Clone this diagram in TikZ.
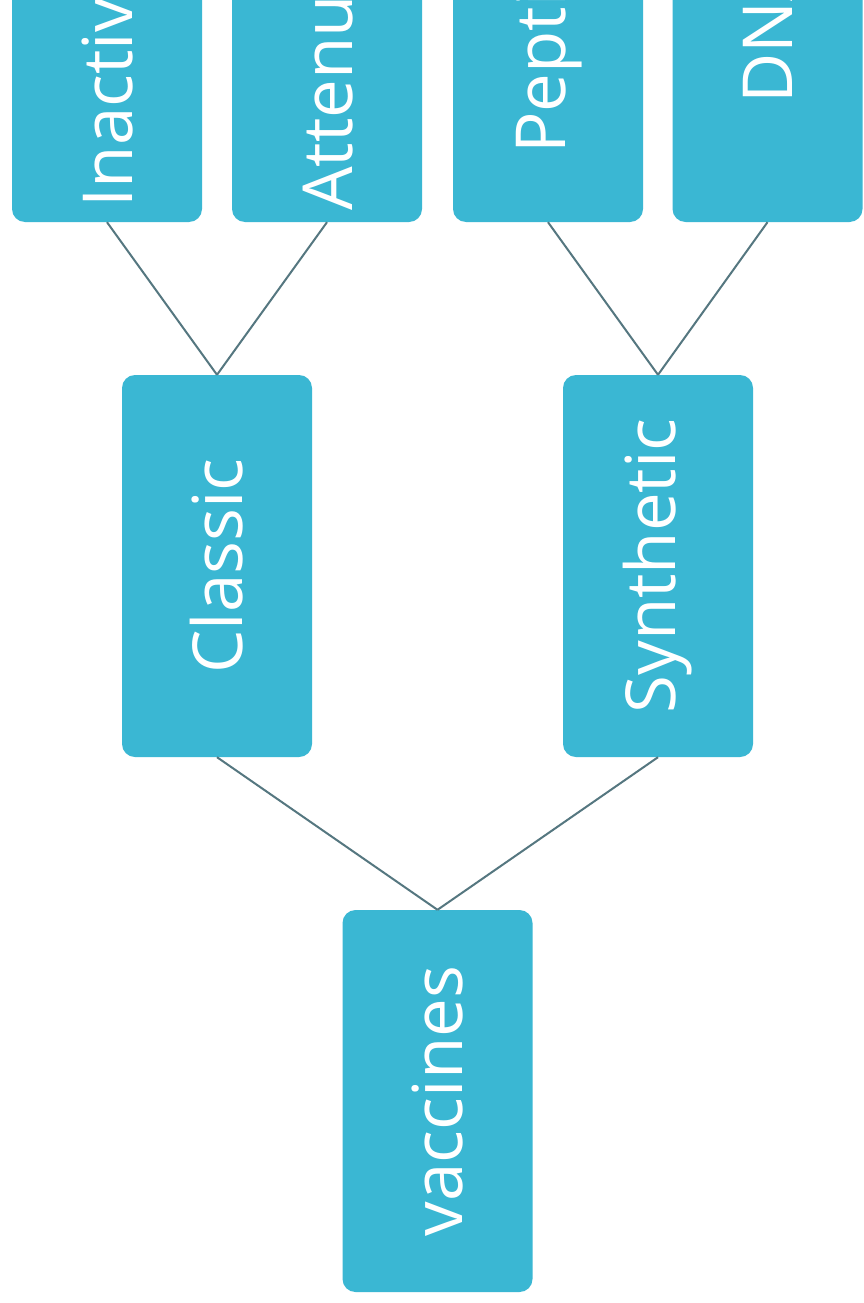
\documentclass[tikz,border=0pt]{standalone}
\usepackage{fontspec}
\setmainfont{Open Sans}
\definecolor{boxfill}{HTML}{3AB7D3}
\definecolor{linkcol}{HTML}{557780}
\begin{document}
\begin{tikzpicture}[x=1pt,y=-1pt,
  vbox/.style={draw=none,fill=boxfill,rounded corners=13pt,minimum width=190pt,minimum height=382pt,inner sep=0pt,text=white,font=\fontsize{69}{80}\selectfont},
  link/.style={draw=linkcol,line width=2pt}]
\useasboundingbox (0,0) rectangle (864,1303);
\clip (0,0) rectangle (864,1303);
\fill[white] (0,0) rectangle (864,1303);
\node[vbox] (inact) at (107,31) {\rotatebox{90}{Inactivated}};
\node[vbox] (atten) at (327,31) {\rotatebox{90}{Attenuated}};
\node[vbox] (pept) at (548,31) {\rotatebox{90}{Peptide}};
\node[vbox] (dna) at (767.5,31) {\rotatebox{90}{DNA}};
\node[vbox] (classic) at (217,566) {\rotatebox{90}{Classic}};
\node[vbox] (synth) at (658,566) {\rotatebox{90}{Synthetic}};
\node[vbox] (vacc) at (437.5,1101) {\rotatebox{90}{vaccines}};
\draw[link] (inact.south) -- (classic.north);
\draw[link] (atten.south) -- (classic.north);
\draw[link] (pept.south) -- (synth.north);
\draw[link] (dna.south) -- (synth.north);
\draw[link] (classic.south) -- (vacc.north);
\draw[link] (synth.south) -- (vacc.north);
\end{tikzpicture}
\end{document}
